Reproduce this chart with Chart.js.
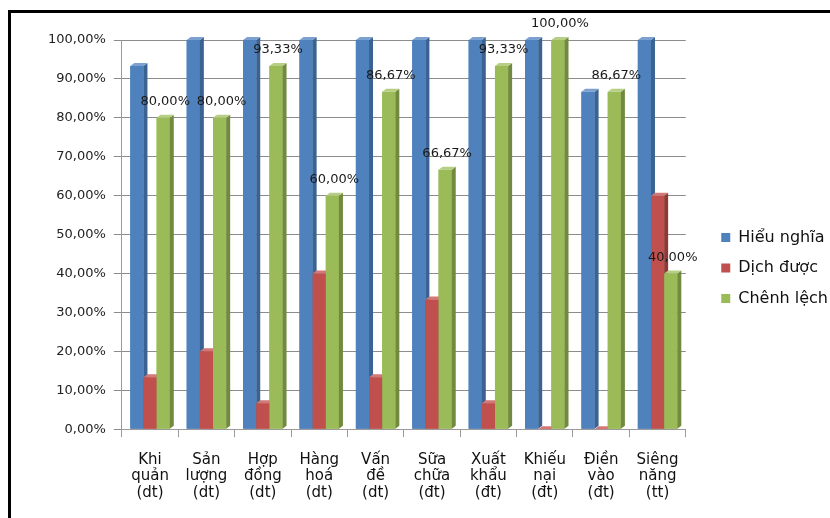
<!DOCTYPE html>
<html lang="vi">
<head>
  <meta charset="UTF-8">
  <title>Hiểu nghĩa / Dịch được</title>
  <script src="https://cdn.jsdelivr.net/npm/chart.js"></script>
  <style>
    html, body { margin: 0; padding: 0; background: #fff; }
    #wrap { position: relative; width: 830px; height: 518px; }
    #frame { position: absolute; left: 8px; top: 10px; right: 0; bottom: 0;
             border-left: 3px solid #000; border-top: 3px solid #000; pointer-events: none; }
  </style>
</head>
<body>
  <div id="wrap">
    <canvas id="chart" width="830" height="518"></canvas>
    <div id="frame"></div>
  </div>

  <script>
    const categories = [
      ['Khi', 'quản', '(dt)'],
      ['Sản', 'lượng', '(dt)'],
      ['Hợp', 'đồng', '(dt)'],
      ['Hàng', 'hoá', '(dt)'],
      ['Vấn', 'đề', '(dt)'],
      ['Sữa', 'chữa', '(đt)'],
      ['Xuất', 'khẩu', '(đt)'],
      ['Khiếu', 'nại', '(đt)'],
      ['Điền', 'vào', '(đt)'],
      ['Siêng', 'năng', '(tt)']
    ];
    const hieuNghia = [93.33, 100, 100, 100, 100, 100, 100, 100, 86.67, 100];
    const dichDuoc = [13.33, 20, 6.67, 40, 13.33, 33.33, 6.67, 0, 0, 60];
    const chenhLech = [80, 80, 93.33, 60, 86.67, 66.67, 93.33, 100, 86.67, 40];

    const fmt = v => v.toFixed(2).replace('.', ',') + '%';

    // side and top faces so the bars look like the old 3D Excel columns
    const shade = {
      '#4F81BD': ['#3A6394', '#7CA0D0'],
      '#C0504D': ['#8E3936', '#D27876'],
      '#9BBB59': ['#718A3F', '#B7CF84']
    };
    const DX = 4, DY = 3;

    const bars3d = {
      id: 'bars3d',
      afterLayout(chart) {
        // nudge the legend to where Excel put it
        const lg = chart.legend;
        lg.left += 8; lg.right += 8;
        lg.top -= 10; lg.bottom -= 10;
      },
      afterDatasetsDraw(chart) {
        const ctx = chart.ctx;
        const n = chart.data.labels.length;
        ctx.save();
        for (let i = 0; i < n; i++) {
          chart.data.datasets.forEach((ds, d) => {
            const bar = chart.getDatasetMeta(d).data[i];
            const {x, y, base, width} = bar.getProps(['x', 'y', 'base', 'width'], true);
            const l = x - width / 2, r = x + width / 2;
            const [side, top] = shade[ds.backgroundColor];
            ctx.fillStyle = ds.backgroundColor;
            ctx.fillRect(l, y, width, base - y);
            ctx.fillStyle = side;
            ctx.beginPath();
            ctx.moveTo(r, y); ctx.lineTo(r + DX, y - DY);
            ctx.lineTo(r + DX, base - DY); ctx.lineTo(r, base);
            ctx.closePath(); ctx.fill();
            ctx.fillStyle = top;
            ctx.beginPath();
            ctx.moveTo(l, y); ctx.lineTo(l + DX, y - DY);
            ctx.lineTo(r + DX, y - DY); ctx.lineTo(r, y);
            ctx.closePath(); ctx.fill();
          });
        }
        // value labels on the last series
        const meta = chart.getDatasetMeta(2);
        ctx.font = '13px "DejaVu Sans"';
        ctx.fillStyle = '#1a1a1a';
        ctx.textAlign = 'center';
        ctx.textBaseline = 'middle';
        meta.data.forEach((bar, i) => {
          ctx.fillText(fmt(chenhLech[i]), bar.x + DX / 2, bar.y - 16);
        });
        ctx.restore();
      }
    };

    new Chart(document.getElementById('chart'), {
      type: 'bar',
      data: {
        labels: categories,
        datasets: [
          { label: 'Hiểu nghĩa', data: hieuNghia, backgroundColor: '#4F81BD' },
          { label: 'Dịch được', data: dichDuoc, backgroundColor: '#C0504D' },
          { label: 'Chênh lệch', data: chenhLech, backgroundColor: '#9BBB59' }
        ]
      },
      options: {
        responsive: false,
        animation: false,
        layout: { padding: { left: 40, top: 40, right: 0, bottom: 2 } },
        datasets: { bar: { categoryPercentage: 0.7, barPercentage: 1.0 } },
        plugins: {
          tooltip: { enabled: false },
          legend: {
            position: 'right',
            labels: {
              boxWidth: 9,
              boxHeight: 9,
              padding: 14.5,
              color: '#111',
              font: { family: '"DejaVu Sans"', size: 16 }
            }
          }
        },
        scales: {
          x: {
            grid: { offset: true, drawOnChartArea: false, color: '#9a9a9a', tickLength: 8 },
            border: { color: '#9a9a9a' },
            ticks: {
              color: '#111',
              padding: 14,
              maxRotation: 0,
              font: { family: '"DejaVu Sans"', size: 15, lineHeight: 1.13 }
            }
          },
          y: {
            min: 0,
            max: 100,
            grid: { color: '#8c8c8c', tickLength: 8 },
            border: { color: '#9a9a9a' },
            ticks: {
              stepSize: 10,
              padding: 8,
              color: '#222',
              font: { family: '"DejaVu Sans"', size: 13 },
              callback: v => fmt(v)
            }
          },
          gap: {
            position: 'right',
            grid: { display: false },
            border: { display: false },
            ticks: { display: false },
            afterFit(scale) { scale.width = 13; }
          }
        }
      },
      plugins: [bars3d]
    });
  </script>
</body>
</html>
